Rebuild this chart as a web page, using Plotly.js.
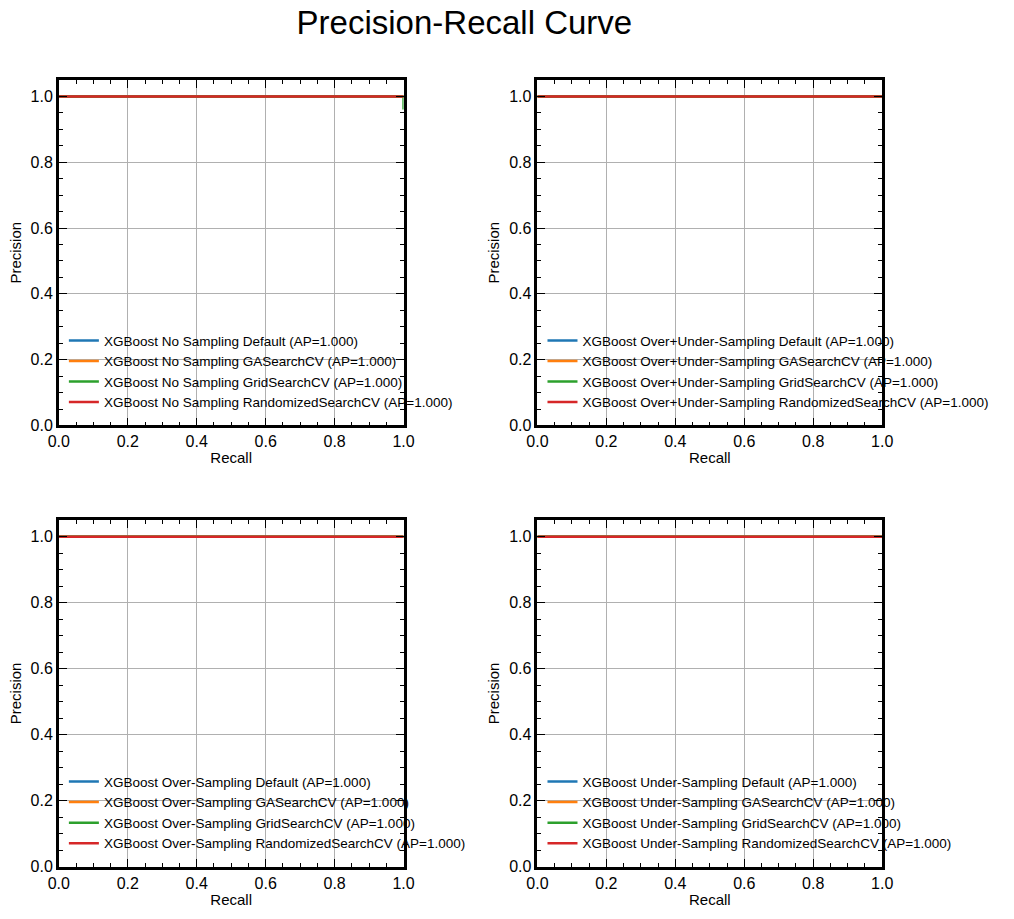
<!DOCTYPE html>
<html>
<head>
<script src="https://cdn.plot.ly/plotly-3.0.1.min.js"></script>
<style>body{margin:0}</style>
</head>
<body>
<div id="plot" style="width:1014px;height:919px"></div>
<script>
var groups = ['No Sampling', 'Over+Under-Sampling', 'Over-Sampling', 'Under-Sampling'];
var methods = ['Default', 'GASearchCV', 'GridSearchCV', 'RandomizedSearchCV'];
var colors = ['#1f77b4', '#ff7f0e', '#2ca02c', '#d62728'];
var apScores = [
    [1.000, 1.000, 1.000, 1.000],
    [1.000, 1.000, 1.000, 1.000],
    [1.000, 1.000, 1.000, 1.000],
    [1.000, 1.000, 1.000, 1.000]
];
// recall / precision points per group and method
var recallPts = [
    [[0, 1], [0, 1], [0, 1, 1], [0, 1]],
    [[0, 1], [0, 1], [0, 1], [0, 1]],
    [[0, 1], [0, 1], [0, 1], [0, 1]],
    [[0, 1], [0, 1], [0, 1], [0, 1]]
];
var precisionPts = [
    [[1, 1], [1, 1], [1, 1, 0.96], [1, 1]],
    [[1, 1], [1, 1], [1, 1], [1, 1]],
    [[1, 1], [1, 1], [1, 1], [1, 1]],
    [[1, 1], [1, 1], [1, 1], [1, 1]]
];

var xDom = [[0.058, 0.398], [0.530, 0.870], [0.058, 0.398], [0.530, 0.870]];
var yDom = [[0.537, 0.913], [0.537, 0.913], [0.057, 0.434], [0.057, 0.434]];

var data = [];
var layout = {
    width: 1014, height: 919,
    margin: {l: 0, r: 0, t: 0, b: 0},
    paper_bgcolor: 'white', plot_bgcolor: 'white',
    font: {family: 'Liberation Sans, Arial, sans-serif', size: 16, color: 'black'},
    title: {text: 'Precision-Recall Curve', x: 0.458, y: 0.976, yanchor: 'middle', font: {size: 33}},
    showlegend: true
};

for (var g = 0; g < groups.length; g++) {
    var sfx = g === 0 ? '' : String(g + 1);
    var lg = g === 0 ? 'legend' : 'legend' + (g + 1);
    for (var m = 0; m < methods.length; m++) {
        data.push({
            type: 'scatter', mode: 'lines',
            x: recallPts[g][m], y: precisionPts[g][m],
            xaxis: 'x' + sfx, yaxis: 'y' + sfx,
            legend: lg,
            name: 'XGBoost ' + groups[g] + ' ' + methods[m] + ' (AP=' + apScores[g][m].toFixed(3) + ')',
            line: {color: colors[m], width: 2.5}
        });
    }
    var common = {
        showline: true, linewidth: 2.5, linecolor: 'black', mirror: 'allticks',
        ticks: 'inside', ticklen: 8, tickwidth: 1.2, tickcolor: 'black',
        showgrid: true, gridcolor: '#b0b0b0', gridwidth: 1, zeroline: false,
        tickformat: '.1f', dtick: 0.2, tick0: 0,
        minor: {ticks: 'inside', ticklen: 4, tickcolor: 'black', dtick: 0.05, showgrid: false},
        tickfont: {size: 16}
    };
    layout['xaxis' + sfx] = Object.assign({}, common, {
        domain: xDom[g], range: [0, 1], anchor: 'y' + sfx,
        title: {text: 'Recall', font: {size: 15}, standoff: 4}
    });
    layout['yaxis' + sfx] = Object.assign({}, common, {
        domain: yDom[g], range: [0, 1.05], anchor: 'x' + sfx,
        title: {text: 'Precision', font: {size: 15}, standoff: 6}
    });
    layout[lg] = {
        x: xDom[g][0] + 0.005, y: yDom[g][0] + 0.008,
        xanchor: 'left', yanchor: 'bottom',
        bgcolor: 'rgba(0,0,0,0)', borderwidth: 0,
        font: {size: 13.5}, tracegroupgap: 0, itemwidth: 30
    };
}

Plotly.newPlot('plot', data, layout, {displayModeBar: false});
</script>
</body>
</html>
